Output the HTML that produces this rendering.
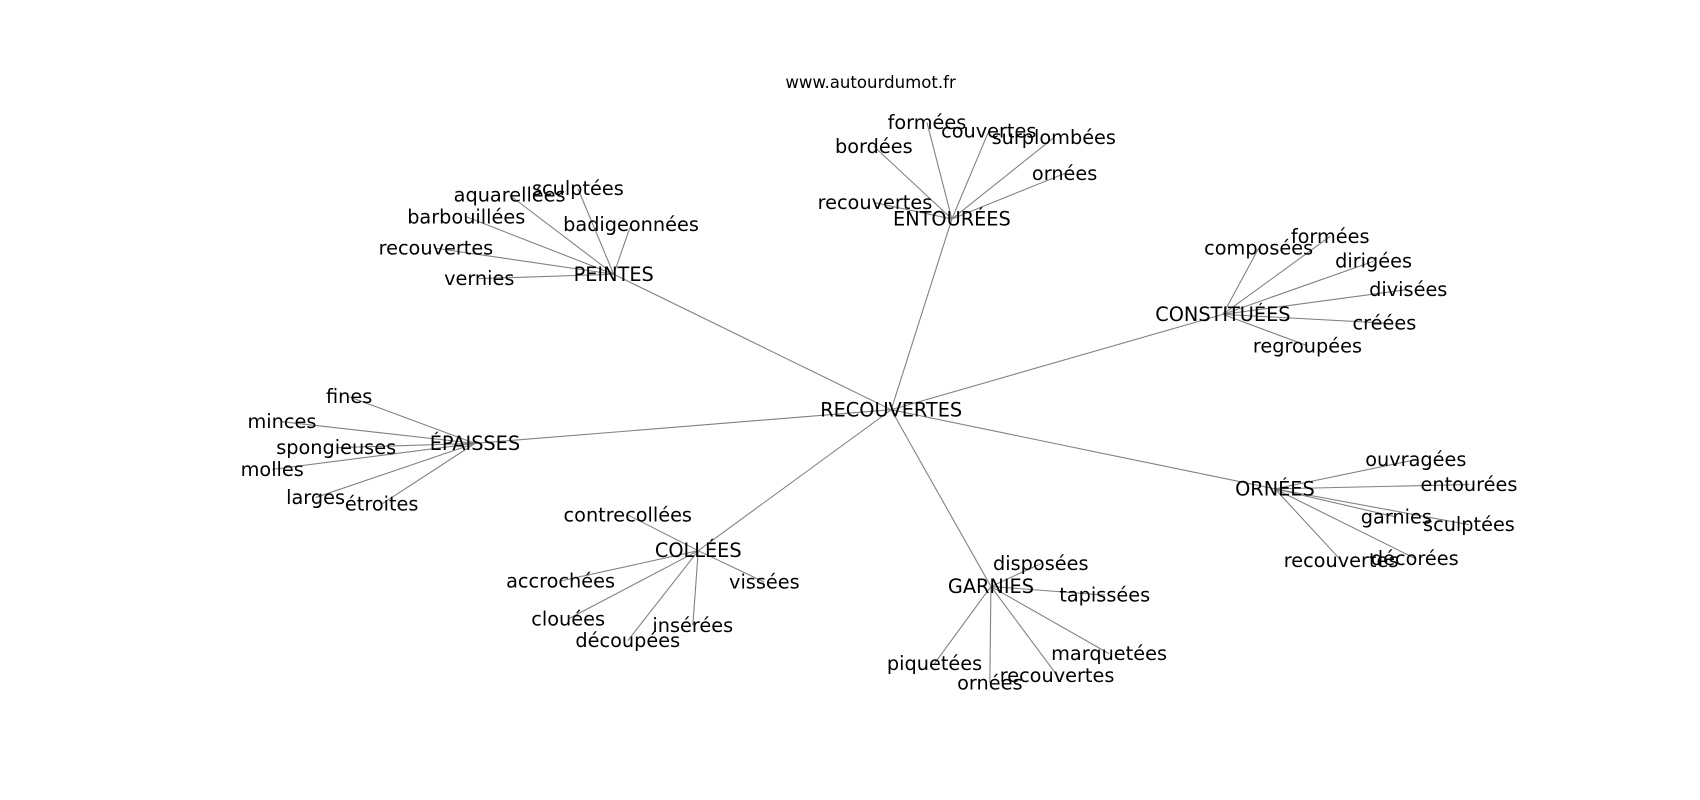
<!DOCTYPE html>
<html><head><meta charset="utf-8"><style>
html,body{margin:0;padding:0;background:#fff;}
svg{display:block;}
text{font-family:"DejaVu Sans","Liberation Sans",sans-serif;font-size:17.8px;fill:#000;}
</style></head><body>
<svg width="1700" height="800" viewBox="0 0 1568 738" xmlns="http://www.w3.org/2000/svg">
<g stroke="#808080" stroke-width="1" fill="none" id="edges"></g>
<g id="labels"></g>
<text x="803" y="76" text-anchor="middle" dominant-baseline="central" style="font-size:15.3px">www.autourdumot.fr</text>
<script>
const R=[822,378];
const hubs={
"PEINTES":[[566,253],[["sculptées",533,174],["aquarellées",470,180],["barbouillées",430,200],["badigeonnées",582,207],["recouvertes",402,229],["vernies",442,257]]],
"ENTOURÉES":[[878,202],[["formées",855,113],["couvertes",912,121],["bordées",806,135],["surplombées",972,127],["ornées",982,160],["recouvertes",807,187]]],
"CONSTITUÉES":[[1128,290],[["composées",1161,229],["formées",1227,218],["dirigées",1267,241],["divisées",1299,267],["créées",1277,298],["regroupées",1206,319]]],
"ÉPAISSES":[[438,409],[["fines",322,366],["minces",260,389],["spongieuses",310,413],["molles",251,433],["larges",291,459],["étroites",352,465]]],
"COLLÉES":[[644,508],[["contrecollées",579,475],["accrochées",517,536],["vissées",705,537],["clouées",524,571],["insérées",639,577],["découpées",579,591]]],
"GARNIES":[[914,541],[["disposées",960,520],["tapissées",1019,549],["piquetées",862,612],["ornées",913,630],["recouvertes",975,623],["marquetées",1023,603]]],
"ORNÉES":[[1176,451],[["ouvragées",1306,424],["entourées",1355,447],["garnies",1288,477],["sculptées",1355,484],["décorées",1305,515],["recouvertes",1237,517]]]
};
const NS="http://www.w3.org/2000/svg";
const E=document.getElementById("edges"),L=document.getElementById("labels");
function line(a,b){const l=document.createElementNS(NS,"line");l.setAttribute("x1",a[0]);l.setAttribute("y1",a[1]);l.setAttribute("x2",b[0]);l.setAttribute("y2",b[1]);E.appendChild(l);}
function txt(s,x,y){const t=document.createElementNS(NS,"text");t.setAttribute("x",x);t.setAttribute("y",y);t.setAttribute("text-anchor","middle");t.setAttribute("dominant-baseline","central");t.textContent=s;L.appendChild(t);}
txt("RECOUVERTES",R[0],R[1]);
for(const h in hubs){const [p,leaves]=hubs[h];line(R,p);txt(h,p[0],p[1]);for(const [s,x,y] of leaves){line(p,[x,y]);txt(s,x,y);}}
</script>
</svg>
</body></html>
